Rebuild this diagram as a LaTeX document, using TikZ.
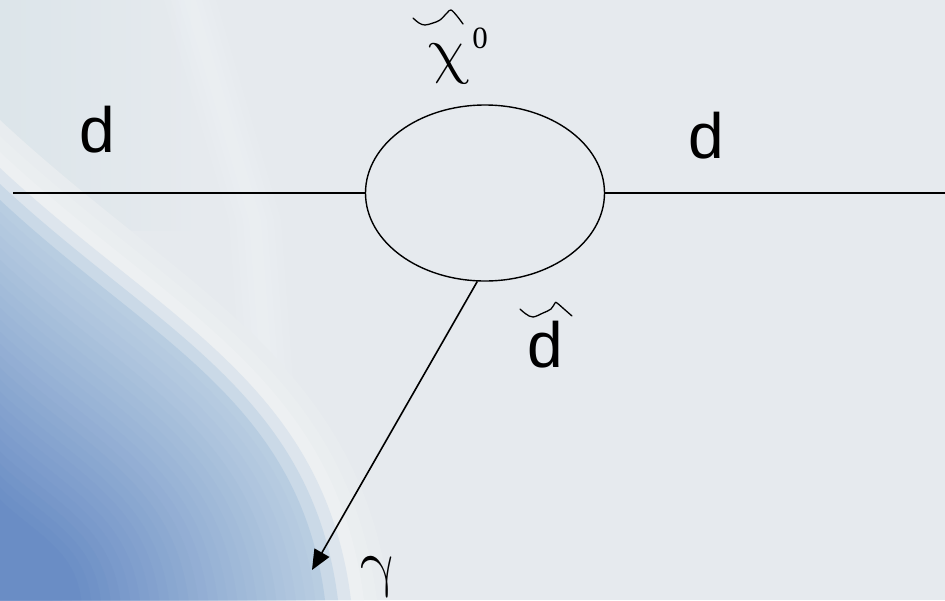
\RequirePackage{fix-cm}
\documentclass[tikz,border=0pt]{standalone}
\usepackage{fontspec}
\setmainfont{Liberation Serif}
\newfontfamily\sansf{Liberation Sans}
\usetikzlibrary{shapes.geometric,arrows.meta}
\definecolor{bgc}{HTML}{E6EAEE}
\definecolor{tintc}{HTML}{DCE5EA}
\definecolor{bandc}{HTML}{EDF0F2}
\definecolor{blueA}{HTML}{B8CDE1}
\definecolor{blueB}{HTML}{6A8DC5}
\newcommand\blueshape{(0,0) -- (0,-400) .. controls (150,-260) and (300,-200) .. (325,0) -- cycle}
\begin{document}
\begin{tikzpicture}[x=1pt,y=-1pt,
  sanslbl/.style={inner sep=0pt,font=\sansf\fontsize{64}{64}\selectfont},
  seriflbl/.style={inner sep=0pt,xslant=-0.25,font=\fontsize{64}{64}\selectfont},
  suplbl/.style={inner sep=0pt,font=\fontsize{31}{31}\selectfont},
  loopstyle/.style={draw=black,ellipse,line width=1.4pt,inner sep=0pt,minimum width=239pt,minimum height=176pt},
  propline/.style={draw=black,line width=2pt},
  photon/.style={draw=black,line width=1.6pt,-{Triangle[length=20pt,width=17pt]}},
  tildeline/.style={draw=black,line width=1.3pt,line cap=round,line join=round}]
\useasboundingbox (0,0) rectangle (945,600);
\begin{scope}
\clip (0,0) rectangle (945,600);
\fill[bgc] (0,0) rectangle (945,600);
% faint tint in upper left and light streak
\shade[left color=tintc,right color=bgc] (0,0) rectangle (200,230);
\foreach \w in {26,19,12,6}{
  \fill[white,opacity=0.07] (190-\w,0) -- (190+\w,0) -- (255+\w,220) -- (270+\w,420) -- (270-\w,420) -- (255-\w,220) -- cycle;
}
\begin{scope}[shift={(0,600)}]
\foreach \s/\c in {1.20/bandc!30!bgc,1.16/bandc!60!bgc,1.12/bandc,1.08/bandc!70!blueA,1.04/bandc!35!blueA}{
  \fill[\c,scale=\s] \blueshape;
}
\foreach \i in {0,...,28}{
  \pgfmathsetmacro\s{1-\i*0.03}
  \pgfmathsetmacro\p{min(100,\i*4)}
  \fill[blueB!\p!blueA,scale=\s] \blueshape;
}
\end{scope}
\end{scope}
% diagram
\node[loopstyle] (loop) at (485,193) {};
\coordinate (lend) at (13,193);
\coordinate (rend) at (945,193);
\coordinate (tip) at (312,570);
\draw[propline] (lend) -- (loop.west);
\draw[propline] (loop.east) -- (rend);
\draw[photon] (loop.265) -- (tip);
% labels
\node[sanslbl] (d1) at (97,130) {d};
\node[sanslbl] (d2) at (706,136) {d};
\node[sanslbl] (d3) at (545.5,345) {d};
\node[seriflbl] (chi) at (449,64) {$\chi$};
\node[suplbl] (chi0) at (480,38.5) {0};
\node[seriflbl] (gam) at (381,577) {$\gamma$};
\draw[tildeline] plot[smooth,tension=0.6] coordinates {(413,18) (419,23) (425,25) (433,23) (440,20) (447,13) (451,10) (457,16) (463,24)};
\draw[tildeline] plot[smooth,tension=0.6] coordinates {(520,309) (526,314) (533,317) (543,313) (551,309) (555,303) (557,303) (564,309) (572,316)};
\end{tikzpicture}
\end{document}
